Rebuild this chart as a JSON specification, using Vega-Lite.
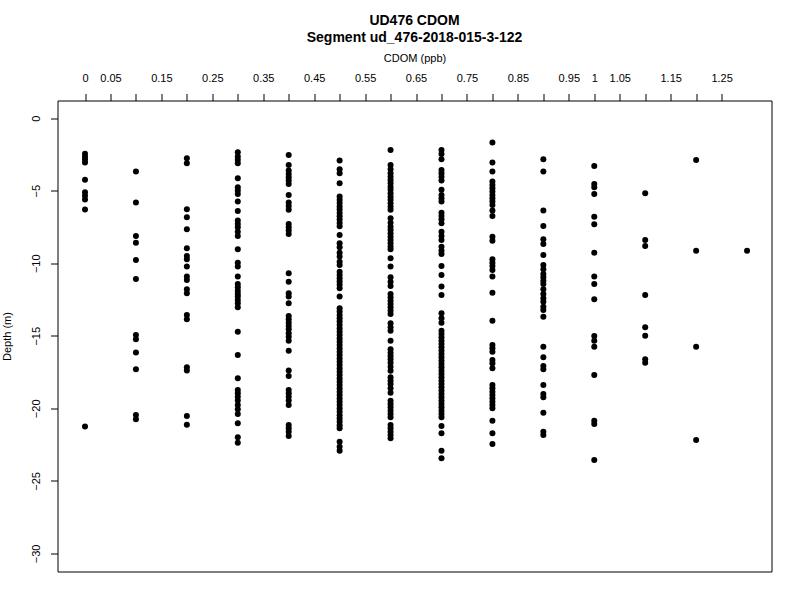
{
  "$schema": "https://vega.github.io/schema/vega-lite/v6.json",
  "autosize": {"type": "none"},
  "width": 714,
  "height": 471,
  "padding": {"left": 57.5, "top": 100.5, "right": 28.5, "bottom": 28.5},
  "background": "white",
  "title": {
    "text": ["UD476 CDOM", "Segment ud_476-2018-015-3-122"],
    "anchor": "middle",
    "frame": "group",
    "font": "Liberation Sans",
    "fontSize": 14,
    "fontWeight": "bold",
    "lineHeight": 17,
    "color": "black",
    "offset": 8
  },
  "data": {
    "values": [
      {"cdom": 0, "depth": -2.45}, {"cdom": 0, "depth": -2.65}, {"cdom": 0, "depth": -2.85}, {"cdom": 0, "depth": -3.05},
      {"cdom": 0, "depth": -4.25}, {"cdom": 0, "depth": -5.1}, {"cdom": 0, "depth": -5.35}, {"cdom": 0, "depth": -5.6},
      {"cdom": 0, "depth": -6.3}, {"cdom": 0, "depth": -21.25},

      {"cdom": 0.1, "depth": -3.68}, {"cdom": 0.1, "depth": -5.82}, {"cdom": 0.1, "depth": -8.12}, {"cdom": 0.1, "depth": -8.58},
      {"cdom": 0.1, "depth": -9.77}, {"cdom": 0.1, "depth": -11.08}, {"cdom": 0.1, "depth": -14.95}, {"cdom": 0.1, "depth": -15.24},
      {"cdom": 0.1, "depth": -16.16}, {"cdom": 0.1, "depth": -17.31}, {"cdom": 0.1, "depth": -20.46}, {"cdom": 0.1, "depth": -20.76},

      {"cdom": 0.2, "depth": -2.76}, {"cdom": 0.2, "depth": -3.1}, {"cdom": 0.2, "depth": -6.28}, {"cdom": 0.2, "depth": -6.83},
      {"cdom": 0.2, "depth": -7.66}, {"cdom": 0.2, "depth": -8.97}, {"cdom": 0.2, "depth": -9.5}, {"cdom": 0.2, "depth": -9.73},
      {"cdom": 0.2, "depth": -10.23}, {"cdom": 0.2, "depth": -10.92}, {"cdom": 0.2, "depth": -11.15}, {"cdom": 0.2, "depth": -11.79},
      {"cdom": 0.2, "depth": -12.07}, {"cdom": 0.2, "depth": -13.57}, {"cdom": 0.2, "depth": -13.86}, {"cdom": 0.2, "depth": -17.17},
      {"cdom": 0.2, "depth": -17.4}, {"cdom": 0.2, "depth": -20.53}, {"cdom": 0.2, "depth": -21.13},

      {"cdom": 0.3, "depth": -2.35}, {"cdom": 0.3, "depth": -2.64}, {"cdom": 0.3, "depth": -2.87}, {"cdom": 0.3, "depth": -3.1},
      {"cdom": 0.3, "depth": -4.14}, {"cdom": 0.3, "depth": -4.76}, {"cdom": 0.3, "depth": -4.99}, {"cdom": 0.3, "depth": -5.22},
      {"cdom": 0.3, "depth": -5.75}, {"cdom": 0.3, "depth": -6.39}, {"cdom": 0.3, "depth": -7.06}, {"cdom": 0.3, "depth": -7.29},
      {"cdom": 0.3, "depth": -7.52}, {"cdom": 0.3, "depth": -7.82}, {"cdom": 0.3, "depth": -8.12}, {"cdom": 0.3, "depth": -9.03},
      {"cdom": 0.3, "depth": -9.96}, {"cdom": 0.3, "depth": -10.23}, {"cdom": 0.3, "depth": -10.92}, {"cdom": 0.3, "depth": -11.43},
      {"cdom": 0.3, "depth": -11.66}, {"cdom": 0.3, "depth": -11.89}, {"cdom": 0.3, "depth": -12.12}, {"cdom": 0.3, "depth": -12.3},
      {"cdom": 0.3, "depth": -12.53}, {"cdom": 0.3, "depth": -12.76}, {"cdom": 0.3, "depth": -13.03}, {"cdom": 0.3, "depth": -14.72},
      {"cdom": 0.3, "depth": -16.32}, {"cdom": 0.3, "depth": -17.93}, {"cdom": 0.3, "depth": -18.74}, {"cdom": 0.3, "depth": -18.97},
      {"cdom": 0.3, "depth": -19.2}, {"cdom": 0.3, "depth": -19.47}, {"cdom": 0.3, "depth": -19.77}, {"cdom": 0.3, "depth": -20.07},
      {"cdom": 0.3, "depth": -20.39}, {"cdom": 0.3, "depth": -21.03}, {"cdom": 0.3, "depth": -22.0}, {"cdom": 0.3, "depth": -22.37},

      {"cdom": 0.4, "depth": -2.53}, {"cdom": 0.4, "depth": -3.22}, {"cdom": 0.4, "depth": -3.61}, {"cdom": 0.4, "depth": -3.84},
      {"cdom": 0.4, "depth": -4.07}, {"cdom": 0.4, "depth": -4.3}, {"cdom": 0.4, "depth": -4.53}, {"cdom": 0.4, "depth": -5.29},
      {"cdom": 0.4, "depth": -5.82}, {"cdom": 0.4, "depth": -6.05}, {"cdom": 0.4, "depth": -6.32}, {"cdom": 0.4, "depth": -7.29},
      {"cdom": 0.4, "depth": -7.52}, {"cdom": 0.4, "depth": -7.75}, {"cdom": 0.4, "depth": -7.98}, {"cdom": 0.4, "depth": -10.69},
      {"cdom": 0.4, "depth": -11.27}, {"cdom": 0.4, "depth": -12.07}, {"cdom": 0.4, "depth": -12.3}, {"cdom": 0.4, "depth": -12.76},
      {"cdom": 0.4, "depth": -13.63}, {"cdom": 0.4, "depth": -13.86}, {"cdom": 0.4, "depth": -14.1}, {"cdom": 0.4, "depth": -14.32},
      {"cdom": 0.4, "depth": -14.55}, {"cdom": 0.4, "depth": -14.83}, {"cdom": 0.4, "depth": -15.06}, {"cdom": 0.4, "depth": -15.34},
      {"cdom": 0.4, "depth": -16.03}, {"cdom": 0.4, "depth": -17.4}, {"cdom": 0.4, "depth": -17.77}, {"cdom": 0.4, "depth": -18.74},
      {"cdom": 0.4, "depth": -18.97}, {"cdom": 0.4, "depth": -19.2}, {"cdom": 0.4, "depth": -19.47}, {"cdom": 0.4, "depth": -19.77},
      {"cdom": 0.4, "depth": -21.15}, {"cdom": 0.4, "depth": -21.38}, {"cdom": 0.4, "depth": -21.61}, {"cdom": 0.4, "depth": -21.91},

      {"cdom": 0.5, "depth": -2.92}, {"cdom": 0.5, "depth": -3.52}, {"cdom": 0.5, "depth": -3.79}, {"cdom": 0.5, "depth": -4.48},
      {"cdom": 0.5, "depth": -5.4}, {"cdom": 0.5, "depth": -5.62}, {"cdom": 0.5, "depth": -5.85}, {"cdom": 0.5, "depth": -6.08},
      {"cdom": 0.5, "depth": -6.3}, {"cdom": 0.5, "depth": -6.53}, {"cdom": 0.5, "depth": -6.76}, {"cdom": 0.5, "depth": -6.99},
      {"cdom": 0.5, "depth": -7.22}, {"cdom": 0.5, "depth": -7.45}, {"cdom": 0.5, "depth": -8.05}, {"cdom": 0.5, "depth": -8.62},
      {"cdom": 0.5, "depth": -8.9}, {"cdom": 0.5, "depth": -9.27}, {"cdom": 0.5, "depth": -9.54}, {"cdom": 0.5, "depth": -9.89},
      {"cdom": 0.5, "depth": -10.12}, {"cdom": 0.5, "depth": -10.58}, {"cdom": 0.5, "depth": -10.81}, {"cdom": 0.5, "depth": -11.04},
      {"cdom": 0.5, "depth": -11.26}, {"cdom": 0.5, "depth": -11.49}, {"cdom": 0.5, "depth": -11.72}, {"cdom": 0.5, "depth": -12.3},
      {"cdom": 0.5, "depth": -13.1}, {"cdom": 0.5, "depth": -13.33}, {"cdom": 0.5, "depth": -13.56}, {"cdom": 0.5, "depth": -13.79},
      {"cdom": 0.5, "depth": -14.02}, {"cdom": 0.5, "depth": -14.26}, {"cdom": 0.5, "depth": -14.49}, {"cdom": 0.5, "depth": -14.72},
      {"cdom": 0.5, "depth": -14.95}, {"cdom": 0.5, "depth": -15.18}, {"cdom": 0.5, "depth": -15.41}, {"cdom": 0.5, "depth": -15.64},
      {"cdom": 0.5, "depth": -15.87}, {"cdom": 0.5, "depth": -16.1}, {"cdom": 0.5, "depth": -16.33}, {"cdom": 0.5, "depth": -16.56},
      {"cdom": 0.5, "depth": -16.79}, {"cdom": 0.5, "depth": -17.02}, {"cdom": 0.5, "depth": -17.25}, {"cdom": 0.5, "depth": -17.48},
      {"cdom": 0.5, "depth": -17.71}, {"cdom": 0.5, "depth": -17.94}, {"cdom": 0.5, "depth": -18.17}, {"cdom": 0.5, "depth": -18.4},
      {"cdom": 0.5, "depth": -18.63}, {"cdom": 0.5, "depth": -18.86}, {"cdom": 0.5, "depth": -19.09}, {"cdom": 0.5, "depth": -19.32},
      {"cdom": 0.5, "depth": -19.55}, {"cdom": 0.5, "depth": -19.78}, {"cdom": 0.5, "depth": -20.01}, {"cdom": 0.5, "depth": -20.24},
      {"cdom": 0.5, "depth": -20.47}, {"cdom": 0.5, "depth": -20.7}, {"cdom": 0.5, "depth": -20.93}, {"cdom": 0.5, "depth": -21.16},
      {"cdom": 0.5, "depth": -21.38}, {"cdom": 0.5, "depth": -22.3}, {"cdom": 0.5, "depth": -22.65}, {"cdom": 0.5, "depth": -22.92},

      {"cdom": 0.6, "depth": -2.19}, {"cdom": 0.6, "depth": -3.22}, {"cdom": 0.6, "depth": -3.52}, {"cdom": 0.6, "depth": -3.79},
      {"cdom": 0.6, "depth": -4.03}, {"cdom": 0.6, "depth": -4.26}, {"cdom": 0.6, "depth": -4.48}, {"cdom": 0.6, "depth": -4.72},
      {"cdom": 0.6, "depth": -4.94}, {"cdom": 0.6, "depth": -5.17}, {"cdom": 0.6, "depth": -5.41}, {"cdom": 0.6, "depth": -5.63},
      {"cdom": 0.6, "depth": -5.86}, {"cdom": 0.6, "depth": -6.1}, {"cdom": 0.6, "depth": -6.32}, {"cdom": 0.6, "depth": -6.9},
      {"cdom": 0.6, "depth": -7.2}, {"cdom": 0.6, "depth": -7.48}, {"cdom": 0.6, "depth": -7.7}, {"cdom": 0.6, "depth": -7.93},
      {"cdom": 0.6, "depth": -8.17}, {"cdom": 0.6, "depth": -8.39}, {"cdom": 0.6, "depth": -8.62}, {"cdom": 0.6, "depth": -8.86},
      {"cdom": 0.6, "depth": -9.03}, {"cdom": 0.6, "depth": -9.66}, {"cdom": 0.6, "depth": -10.23}, {"cdom": 0.6, "depth": -10.97},
      {"cdom": 0.6, "depth": -11.27}, {"cdom": 0.6, "depth": -11.57}, {"cdom": 0.6, "depth": -12.12}, {"cdom": 0.6, "depth": -12.34},
      {"cdom": 0.6, "depth": -12.58}, {"cdom": 0.6, "depth": -12.81}, {"cdom": 0.6, "depth": -13.03}, {"cdom": 0.6, "depth": -13.27},
      {"cdom": 0.6, "depth": -13.5}, {"cdom": 0.6, "depth": -14.14}, {"cdom": 0.6, "depth": -14.41}, {"cdom": 0.6, "depth": -14.65},
      {"cdom": 0.6, "depth": -15.34}, {"cdom": 0.6, "depth": -15.93}, {"cdom": 0.6, "depth": -16.17}, {"cdom": 0.6, "depth": -16.39},
      {"cdom": 0.6, "depth": -16.62}, {"cdom": 0.6, "depth": -16.86}, {"cdom": 0.6, "depth": -17.13}, {"cdom": 0.6, "depth": -17.41},
      {"cdom": 0.6, "depth": -17.86}, {"cdom": 0.6, "depth": -18.1}, {"cdom": 0.6, "depth": -18.32}, {"cdom": 0.6, "depth": -18.62},
      {"cdom": 0.6, "depth": -18.92}, {"cdom": 0.6, "depth": -19.48}, {"cdom": 0.6, "depth": -19.7}, {"cdom": 0.6, "depth": -19.93},
      {"cdom": 0.6, "depth": -20.17}, {"cdom": 0.6, "depth": -20.39}, {"cdom": 0.6, "depth": -20.62}, {"cdom": 0.6, "depth": -21.15},
      {"cdom": 0.6, "depth": -21.38}, {"cdom": 0.6, "depth": -21.61}, {"cdom": 0.6, "depth": -21.84}, {"cdom": 0.6, "depth": -22.07},

      {"cdom": 0.7, "depth": -2.19}, {"cdom": 0.7, "depth": -2.46}, {"cdom": 0.7, "depth": -2.83}, {"cdom": 0.7, "depth": -3.57},
      {"cdom": 0.7, "depth": -3.79}, {"cdom": 0.7, "depth": -4.03}, {"cdom": 0.7, "depth": -4.3}, {"cdom": 0.7, "depth": -4.94},
      {"cdom": 0.7, "depth": -5.29}, {"cdom": 0.7, "depth": -5.52}, {"cdom": 0.7, "depth": -5.75}, {"cdom": 0.7, "depth": -6.51},
      {"cdom": 0.7, "depth": -6.74}, {"cdom": 0.7, "depth": -6.97}, {"cdom": 0.7, "depth": -7.24}, {"cdom": 0.7, "depth": -7.82},
      {"cdom": 0.7, "depth": -8.12}, {"cdom": 0.7, "depth": -8.39}, {"cdom": 0.7, "depth": -8.86}, {"cdom": 0.7, "depth": -9.13},
      {"cdom": 0.7, "depth": -9.36}, {"cdom": 0.7, "depth": -10.19}, {"cdom": 0.7, "depth": -10.81}, {"cdom": 0.7, "depth": -11.61},
      {"cdom": 0.7, "depth": -12.19}, {"cdom": 0.7, "depth": -13.45}, {"cdom": 0.7, "depth": -13.79}, {"cdom": 0.7, "depth": -14.1},
      {"cdom": 0.7, "depth": -14.65}, {"cdom": 0.7, "depth": -14.88}, {"cdom": 0.7, "depth": -15.1}, {"cdom": 0.7, "depth": -15.34},
      {"cdom": 0.7, "depth": -15.57}, {"cdom": 0.7, "depth": -15.79}, {"cdom": 0.7, "depth": -16.03}, {"cdom": 0.7, "depth": -16.26},
      {"cdom": 0.7, "depth": -16.48}, {"cdom": 0.7, "depth": -16.72}, {"cdom": 0.7, "depth": -16.94}, {"cdom": 0.7, "depth": -17.17},
      {"cdom": 0.7, "depth": -17.41}, {"cdom": 0.7, "depth": -17.63}, {"cdom": 0.7, "depth": -17.86}, {"cdom": 0.7, "depth": -18.1},
      {"cdom": 0.7, "depth": -18.32}, {"cdom": 0.7, "depth": -18.55}, {"cdom": 0.7, "depth": -18.79}, {"cdom": 0.7, "depth": -19.01},
      {"cdom": 0.7, "depth": -19.24}, {"cdom": 0.7, "depth": -19.48}, {"cdom": 0.7, "depth": -19.7}, {"cdom": 0.7, "depth": -19.93},
      {"cdom": 0.7, "depth": -20.17}, {"cdom": 0.7, "depth": -20.39}, {"cdom": 0.7, "depth": -20.62}, {"cdom": 0.7, "depth": -21.22},
      {"cdom": 0.7, "depth": -21.72}, {"cdom": 0.7, "depth": -22.92}, {"cdom": 0.7, "depth": -23.45},

      {"cdom": 0.8, "depth": -1.68}, {"cdom": 0.8, "depth": -3.06}, {"cdom": 0.8, "depth": -3.68}, {"cdom": 0.8, "depth": -4.37},
      {"cdom": 0.8, "depth": -4.6}, {"cdom": 0.8, "depth": -4.83}, {"cdom": 0.8, "depth": -5.06}, {"cdom": 0.8, "depth": -5.29},
      {"cdom": 0.8, "depth": -5.52}, {"cdom": 0.8, "depth": -5.75}, {"cdom": 0.8, "depth": -5.98}, {"cdom": 0.8, "depth": -6.37},
      {"cdom": 0.8, "depth": -6.74}, {"cdom": 0.8, "depth": -8.17}, {"cdom": 0.8, "depth": -8.44}, {"cdom": 0.8, "depth": -9.72},
      {"cdom": 0.8, "depth": -9.96}, {"cdom": 0.8, "depth": -10.19}, {"cdom": 0.8, "depth": -10.46}, {"cdom": 0.8, "depth": -10.92},
      {"cdom": 0.8, "depth": -12.03}, {"cdom": 0.8, "depth": -13.96}, {"cdom": 0.8, "depth": -15.63}, {"cdom": 0.8, "depth": -15.86},
      {"cdom": 0.8, "depth": -16.1}, {"cdom": 0.8, "depth": -16.67}, {"cdom": 0.8, "depth": -16.9}, {"cdom": 0.8, "depth": -17.24},
      {"cdom": 0.8, "depth": -18.39}, {"cdom": 0.8, "depth": -18.62}, {"cdom": 0.8, "depth": -18.85}, {"cdom": 0.8, "depth": -19.08},
      {"cdom": 0.8, "depth": -19.31}, {"cdom": 0.8, "depth": -19.54}, {"cdom": 0.8, "depth": -19.77}, {"cdom": 0.8, "depth": -20.0},
      {"cdom": 0.8, "depth": -20.85}, {"cdom": 0.8, "depth": -21.72}, {"cdom": 0.8, "depth": -22.46},

      {"cdom": 0.9, "depth": -2.83}, {"cdom": 0.9, "depth": -3.68}, {"cdom": 0.9, "depth": -6.37}, {"cdom": 0.9, "depth": -7.43},
      {"cdom": 0.9, "depth": -8.35}, {"cdom": 0.9, "depth": -8.67}, {"cdom": 0.9, "depth": -9.43}, {"cdom": 0.9, "depth": -10.12},
      {"cdom": 0.9, "depth": -10.42}, {"cdom": 0.9, "depth": -10.74}, {"cdom": 0.9, "depth": -10.97}, {"cdom": 0.9, "depth": -11.2},
      {"cdom": 0.9, "depth": -11.43}, {"cdom": 0.9, "depth": -11.8}, {"cdom": 0.9, "depth": -12.12}, {"cdom": 0.9, "depth": -12.41},
      {"cdom": 0.9, "depth": -12.65}, {"cdom": 0.9, "depth": -12.99}, {"cdom": 0.9, "depth": -13.22}, {"cdom": 0.9, "depth": -13.68},
      {"cdom": 0.9, "depth": -15.75}, {"cdom": 0.9, "depth": -16.48}, {"cdom": 0.9, "depth": -17.08}, {"cdom": 0.9, "depth": -17.31},
      {"cdom": 0.9, "depth": -18.39}, {"cdom": 0.9, "depth": -19.01}, {"cdom": 0.9, "depth": -19.24}, {"cdom": 0.9, "depth": -20.3},
      {"cdom": 0.9, "depth": -21.61}, {"cdom": 0.9, "depth": -21.84},

      {"cdom": 1.0, "depth": -3.29}, {"cdom": 1.0, "depth": -4.53}, {"cdom": 1.0, "depth": -4.76}, {"cdom": 1.0, "depth": -5.22},
      {"cdom": 1.0, "depth": -6.79}, {"cdom": 1.0, "depth": -7.31}, {"cdom": 1.0, "depth": -9.27}, {"cdom": 1.0, "depth": -10.92},
      {"cdom": 1.0, "depth": -11.43}, {"cdom": 1.0, "depth": -12.48}, {"cdom": 1.0, "depth": -15.01}, {"cdom": 1.0, "depth": -15.34},
      {"cdom": 1.0, "depth": -15.75}, {"cdom": 1.0, "depth": -17.7}, {"cdom": 1.0, "depth": -20.85}, {"cdom": 1.0, "depth": -21.08},
      {"cdom": 1.0, "depth": -23.57},

      {"cdom": 1.1, "depth": -5.17}, {"cdom": 1.1, "depth": -8.39}, {"cdom": 1.1, "depth": -8.81}, {"cdom": 1.1, "depth": -12.19},
      {"cdom": 1.1, "depth": -14.41}, {"cdom": 1.1, "depth": -14.99}, {"cdom": 1.1, "depth": -16.62}, {"cdom": 1.1, "depth": -16.86},

      {"cdom": 1.2, "depth": -2.88}, {"cdom": 1.2, "depth": -9.13}, {"cdom": 1.2, "depth": -15.75}, {"cdom": 1.2, "depth": -22.19},

      {"cdom": 1.3, "depth": -9.13}
    ]
  },
  "mark": {"type": "point", "shape": "circle", "filled": true, "color": "black", "opacity": 1, "size": 36},
  "encoding": {
    "x": {
      "field": "cdom",
      "type": "quantitative",
      "scale": {"domain": [-0.054, 1.348], "nice": false, "zero": false},
      "axis": {
        "orient": "top",
        "title": "CDOM (ppb)",
        "values": [0, 0.05, 0.1, 0.15, 0.2, 0.25, 0.3, 0.35, 0.4, 0.45, 0.5, 0.55, 0.6, 0.65, 0.7, 0.75, 0.8, 0.85, 0.9, 0.95, 1, 1.05, 1.1, 1.15, 1.2, 1.25],
        "format": "~g",
        "labelExpr": "indexof([0, 0.05, 0.15, 0.25, 0.35, 0.45, 0.55, 0.65, 0.75, 0.85, 0.95, 1, 1.05, 1.15, 1.25], datum.value) >= 0 ? datum.label : ''",
        "labelBaseline": "alphabetic",
        "labelPadding": 12,
        "titleY": -39,
        "titleBaseline": "alphabetic"
      }
    },
    "y": {
      "field": "depth",
      "type": "quantitative",
      "scale": {"domain": [-31.25, 1.22], "nice": false, "zero": false},
      "axis": {
        "orient": "left",
        "title": "Depth (m)",
        "values": [-30, -25, -20, -15, -10, -5, 0],
        "labelAngle": -90,
        "labelAlign": "center",
        "labelBaseline": "alphabetic",
        "labelPadding": 11,
        "titleX": -45,
        "titleY": 235.5,
        "titleAngle": -90,
        "titleAlign": "center",
        "titleBaseline": "bottom"
      }
    }
  },
  "config": {
    "view": {"stroke": "black", "strokeWidth": 1},
    "axis": {
      "grid": false,
      "domain": false,
      "ticks": true,
      "tickSize": 7,
      "tickColor": "black",
      "tickWidth": 1,
      "labelFont": "Liberation Sans",
      "labelFontSize": 11,
      "labelColor": "black",
      "labelOverlap": false,
      "titleFont": "Liberation Sans",
      "titleFontSize": 11,
      "titleFontWeight": "normal",
      "titleColor": "black"
    }
  }
}
